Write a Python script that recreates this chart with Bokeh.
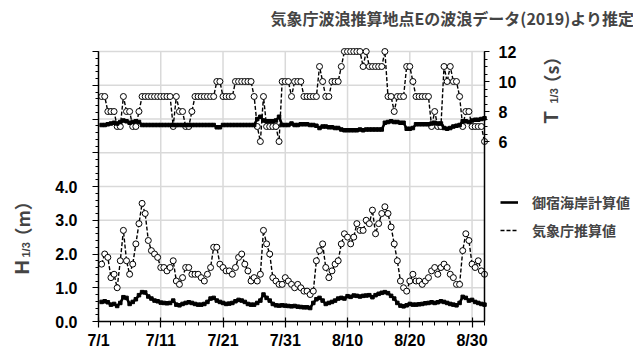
import math
from bokeh.plotting import figure
from bokeh.models import (Range1d, LinearAxis, FixedTicker, Label, Legend,
                          LegendItem, ColumnDataSource)
from bokeh.embed import file_html
from bokeh.resources import INLINE

# ---------------- data ----------------
title_text = "気象庁波浪推算地点Eの波浪データ(2019)より推定"
x_tick_days = [0, 10, 20, 30, 40, 50, 60]
x_tick_labels = ["7/1", "7/11", "7/21", "7/31", "8/10", "8/20", "8/30"]
h_ticks = [0, 1, 2, 3, 4, 5, 6, 7, 8]
h_tick_labels = ["0.0", "1.0", "2.0", "3.0", "4.0", "", "", "", ""]
t_ticks = [6, 8, 10, 12]
t_tick_labels = ["6", "8", "10", "12"]
legend_labels = ["御宿海岸計算値", "気象庁推算値"]

# sample times: every 12 h, days after 7/1 00:00 (7/1 12:00 ... 9/1 00:00)
t_days = [0.5 * (i + 1) for i in range(124)]

# 気象庁推算値 H1/3 (m)
h_jma = [1.7, 2.0, 1.9, 1.3, 1.4, 1.0, 1.8, 2.7, 1.8, 1.4, 1.7, 2.3, 2.9, 3.5,
         3.2, 2.4, 2.1, 2.0, 1.9, 1.6, 1.6, 1.5, 1.6, 1.8, 1.2, 1.1, 1.3, 1.6,
         1.6, 1.4, 1.4, 1.4, 1.3, 1.2, 1.4, 1.6, 2.2, 2.2, 1.7, 1.6, 1.5,
         1.5, 1.4, 1.6, 1.9, 2.0, 1.7, 1.5, 1.2, 1.3, 1.2, 1.4, 2.7, 2.3, 2.0,
         1.3, 1.2, 1.1, 1.1, 1.3, 1.2, 1.1, 1.0, 1.1, 1.0, 0.9, 0.9, 0.8, 0.9,
         1.8, 2.1, 2.3, 1.6, 1.3, 1.5, 1.7, 1.8, 2.3, 2.6, 2.5, 2.3, 2.5, 2.9,
         2.7, 2.7, 3.0, 2.9, 3.3, 2.6, 2.9, 3.2, 3.4, 3.2, 2.8, 2.3, 1.8, 1.2,
         1.0, 0.9, 1.2, 1.4, 1.2, 1.2, 1.1, 1.2, 1.3, 1.5, 1.6, 1.4, 1.6, 1.7,
         1.6, 1.4, 1.3, 1.1, 1.1, 2.1, 2.6, 2.4, 1.7, 1.6, 1.8, 1.5, 1.4]

# 御宿海岸計算値 H1/3 (m)
h_onj = [0.58, 0.60, 0.57, 0.50, 0.52, 0.46, 0.55, 0.72, 0.70, 0.52, 0.58,
         0.66, 0.78, 0.87, 0.86, 0.74, 0.68, 0.62, 0.60, 0.56, 0.55, 0.54,
         0.55, 0.62, 0.50, 0.48, 0.52, 0.55, 0.57, 0.55, 0.52, 0.50, 0.50,
         0.52, 0.58, 0.68, 0.70, 0.62, 0.58, 0.55, 0.52, 0.53, 0.55, 0.60,
         0.64, 0.62, 0.58, 0.52, 0.50, 0.50, 0.55, 0.62, 0.80, 0.70, 0.62,
         0.52, 0.48, 0.47, 0.48, 0.47, 0.46, 0.45, 0.46, 0.44, 0.43, 0.42,
         0.42, 0.40, 0.55, 0.66, 0.70, 0.62, 0.52, 0.55, 0.58, 0.62, 0.68,
         0.70, 0.68, 0.75, 0.73, 0.77, 0.76, 0.74, 0.76, 0.77, 0.78, 0.72,
         0.78, 0.82, 0.85, 0.87, 0.84, 0.76, 0.68, 0.55, 0.47, 0.45, 0.48,
         0.52, 0.50, 0.50, 0.51, 0.52, 0.54, 0.55, 0.57, 0.55, 0.57, 0.60,
         0.58, 0.55, 0.52, 0.50, 0.48, 0.55, 0.73, 0.70, 0.62, 0.64, 0.58,
         0.55, 0.52, 0.50]

# 気象庁推算値 T1/3 (s)
t_jma = [9, 9, 8, 8, 8, 7, 7, 9, 8, 8, 7, 7, 8,
         9, 9, 9, 9, 9, 9, 9, 9, 9, 9,
         7, 9, 8, 8, 7, 7, 8,
         9, 9, 9, 9, 9, 9, 9,
         10, 10,
         9, 9, 9, 9,
         10, 10, 10, 10, 10, 10,
         9, 7, 6, 9,
         7, 7, 7, 7,
         6,
         10, 10, 10,
         9,
         10, 10, 10,
         9, 9, 9, 9, 9,
         11, 10, 9, 9,
         10, 10, 10,
         11,
         12, 12, 12, 12, 12, 12,
         11, 12,
         11, 11, 11, 11, 11,
         12, 9, 9, 8,
         9, 9, 9,
         11, 11, 10,
         9, 9, 9, 9, 9,
         7, 8, 7, 7,
         11, 10, 11, 10, 10, 9,
         7, 8, 8,
         7, 7, 7, 7,
         6]

# 御宿海岸計算値 T1/3 (s)
t_onj = [7.1, 7.1, 7.15, 7.2, 7.25, 7.2, 7.3, 7.4, 7.35, 7.25, 7.3, 7.35, 7.3,
         7.1, 7.1, 7.1, 7.1, 7.1, 7.1, 7.1, 7.1, 7.1, 7.1, 7.1, 7.1,
         7.1, 7.1, 7.1, 7.1, 7.1, 7.1, 7.1, 7.1, 7.1, 7.1, 7.1, 7.1,
         6.95, 6.95,
         7.1, 7.1, 7.1, 7.1, 7.1, 7.1, 7.1, 7.1, 7.1, 7.1, 7.1,
         7.5, 7.65,
         7.4, 7.35, 7.35, 7.35, 7.4,
         7.65,
         7.1, 7.1, 7.1,
         7.2,
         7.1, 7.1, 7.15, 7.15, 7.15, 7.1, 7.1, 7.05,
         6.9,
         7.0, 7.0, 6.95, 6.95,
         6.9, 6.9, 6.8,
         6.75, 6.75, 6.75, 6.75, 6.75, 6.8, 6.75, 6.8, 6.8, 6.8, 6.8, 6.8, 6.8,
         7.25, 7.3, 7.35, 7.3, 7.3, 7.25, 7.25,
         6.85, 6.85, 6.9,
         7.15, 7.15, 7.15, 7.15, 7.15,
         7.2, 7.25, 7.2, 7.2,
         6.9, 6.85, 6.9,
         7.0, 7.05, 7.1,
         7.35, 7.35, 7.3,
         7.4, 7.45, 7.45, 7.5, 7.55]

# ---------------- geometry ----------------
W, H = 633, 351
X0, X1 = 0, 62          # date axis (days after 7/1)
H0, H1 = 0, 8           # wave-height axis
T0, T1 = -6, 12         # period axis
FL, FR, FT, FB = 98, 484, 51, 321   # plot-area edges in canvas pixels

sx = (FR - FL) / (X1 - X0)
sh = (FB - FT) / (H1 - H0)
st = (FB - FT) / (T1 - T0)
x_rng = Range1d(X0 - FL / sx, X0 + (W - FL) / sx)
h_rng = Range1d(H0 - (H - FB) / sh, H0 + FB / sh)
t_rng = Range1d(T0 - (H - FB) / st, T0 + FB / st)


def dx(px):
    return X0 + (px - FL) / sx


def dy(py):
    return H0 + (FB - py) / sh


p = figure(width=W, height=H, output_backend="svg", toolbar_location=None,
           x_range=x_rng, y_range=h_rng, x_axis_type=None, y_axis_type=None,
           min_border=0, min_border_left=0, min_border_right=0,
           min_border_top=0, min_border_bottom=0)
p.outline_line_color = None
p.background_fill_color = "white"
p.border_fill_color = "white"
p.grid.visible = False
p.extra_y_ranges = {"T": t_rng}

FONT = "Liberation Sans"
CJK = "Noto Sans CJK JP"

# grid lines (plot area only)
p.segment(x0=x_tick_days[1:], x1=x_tick_days[1:], y0=[H0] * 6, y1=[H1] * 6,
          line_color="#d9d9d9", line_width=1.5)
p.segment(x0=[X0] * 8, x1=[X1] * 8, y0=h_ticks[1:], y1=h_ticks[1:],
          line_color="#d9d9d9", line_width=1.5)

xax = LinearAxis(fixed_location=H0, bounds=(X0, X1),
                 ticker=FixedTicker(ticks=x_tick_days,
                                    minor_ticks=list(range(0, 63, 2))))
xax.major_label_overrides = {d: l for d, l in zip(x_tick_days, x_tick_labels)}
xax.major_tick_in = 4
xax.major_tick_out = 6
xax.minor_tick_in = 0
xax.minor_tick_out = 4
xax.major_label_standoff = 4
p.add_layout(xax, "below")

yax = LinearAxis(fixed_location=X0, bounds=(H0, H1),
                 ticker=FixedTicker(ticks=h_ticks,
                                    minor_ticks=[i * 0.2 for i in range(41)]))
yax.major_label_overrides = {v: l for v, l in zip(h_ticks, h_tick_labels)}
yax.major_tick_in = 0
yax.major_tick_out = 6
yax.minor_tick_in = 0
yax.minor_tick_out = 3
yax.major_label_standoff = 15
p.add_layout(yax, "left")

rax = LinearAxis(y_range_name="T", fixed_location=X1, bounds=(T0, T1),
                 ticker=FixedTicker(ticks=t_ticks,
                                    minor_ticks=[6 + i * 0.5 for i in range(13)]))
rax.major_label_overrides = {v: l for v, l in zip(t_ticks, t_tick_labels)}
rax.major_tick_in = 0
rax.major_tick_out = 5
rax.minor_tick_in = 0
rax.minor_tick_out = 3
rax.major_label_standoff = 9
p.add_layout(rax, "right")

for ax in (xax, yax, rax):
    ax.axis_line_color = "black"
    ax.axis_line_width = 1.5
    ax.major_tick_line_color = "black"
    ax.minor_tick_line_color = "black"
    ax.major_tick_line_width = 1.2
    ax.minor_tick_line_width = 1
    ax.major_label_text_font = FONT
    ax.major_label_text_font_style = "bold"
    ax.major_label_text_font_size = "16px"
    ax.major_label_text_color = "black"

src = ColumnDataSource(dict(t=t_days, h_jma=h_jma, h_onj=h_onj,
                            t_jma=t_jma, t_onj=t_onj))

# JMA estimates (dashed + open circles)
p.line("t", "t_jma", source=src, y_range_name="T", color="black",
       line_width=1.4, line_dash="4 2")
p.scatter("t", "t_jma", source=src, y_range_name="T", size=6,
          fill_color="white", line_color="black", line_width=1)
jma_line = p.line("t", "h_jma", source=src, color="black", line_width=1.4,
                  line_dash="4 2")
p.scatter("t", "h_jma", source=src, size=6, fill_color="white",
          line_color="black", line_width=1)

# Onjuku computed (thick solid)
p.line("t", "t_onj", source=src, y_range_name="T", color="black", line_width=2.6)
p.scatter("t", "t_onj", source=src, y_range_name="T", marker="square", size=3.5,
          color="black")
onj_line = p.line("t", "h_onj", source=src, color="black", line_width=2.6)
p.scatter("t", "h_onj", source=src, marker="square", size=3.5, color="black")

# legend (line samples only)
legend = Legend(items=[LegendItem(label=legend_labels[0], renderers=[onj_line]),
                       LegendItem(label=legend_labels[1], renderers=[jma_line])],
                location=(500, H - 240))
legend.border_line_color = None
legend.background_fill_alpha = 0
legend.padding = 0
legend.margin = 0
legend.spacing = 8
legend.glyph_width = 18
legend.glyph_height = 20
legend.label_height = 20
legend.label_standoff = 14
legend.label_text_font = CJK
legend.label_text_font_style = "bold"
legend.label_text_font_size = "14px"
p.add_layout(legend, "center")

# title and axis titles
p.add_layout(Label(x=dx(270), y=dy(17), text=title_text, text_font=CJK,
                   text_font_style="bold", text_font_size="16px",
                   text_baseline="middle", text_align="left"))

rot = math.pi / 2
p.add_layout(Label(x=dx(21.5), y=dy(274), text="H", angle=rot, text_font=FONT,
                   text_font_style="bold", text_font_size="20px",
                   text_baseline="middle", text_align="left"))
p.add_layout(Label(x=dx(25), y=dy(257), text="1/3", angle=rot, text_font=FONT,
                   text_font_style="bold", text_font_size="11px",
                   text_baseline="middle", text_align="left"))
p.add_layout(Label(x=dx(21.5), y=dy(245), text="（m）", angle=rot, text_font=CJK,
                   text_font_style="bold", text_font_size="18px",
                   text_baseline="middle", text_align="left"))

p.add_layout(Label(x=dx(550), y=dy(123), text="T", angle=rot, text_font=FONT,
                   text_font_style="bold", text_font_size="20px",
                   text_baseline="middle", text_align="left"))
p.add_layout(Label(x=dx(553.5), y=dy(103), text="1/3", angle=rot, text_font=FONT,
                   text_font_style="bold", text_font_size="11px",
                   text_baseline="middle", text_align="left"))
p.add_layout(Label(x=dx(550), y=dy(92), text="（s）", angle=rot, text_font=CJK,
                   text_font_style="bold", text_font_size="18px",
                   text_baseline="middle", text_align="left"))

open("out.html", "w").write(file_html(p, INLINE))
